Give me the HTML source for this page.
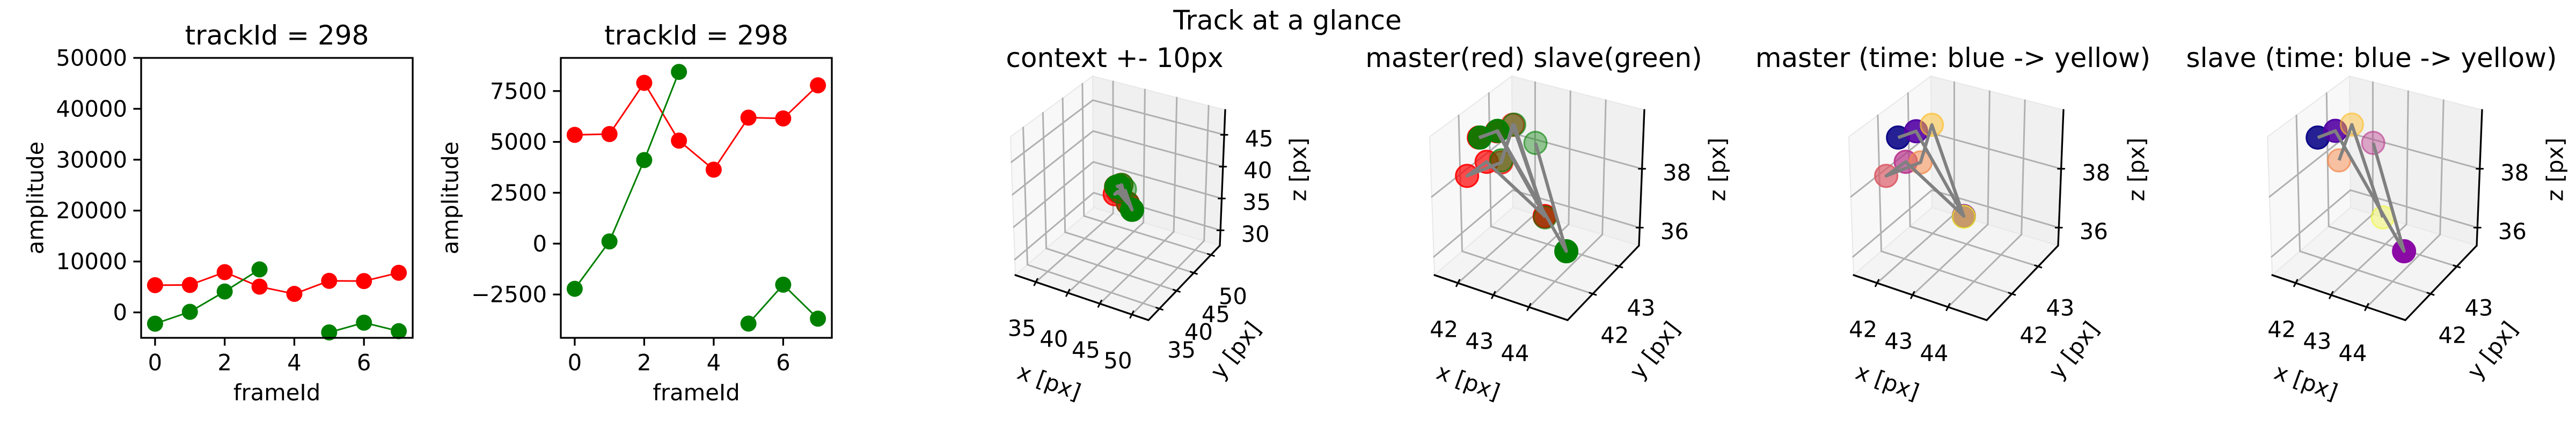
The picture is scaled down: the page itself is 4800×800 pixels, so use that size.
<!DOCTYPE html>
<html><head><meta charset="utf-8">
<style>
html,body{margin:0;padding:0;background:#fff;}
svg{display:block;font-family:"DejaVu Sans","Liberation Sans",sans-serif;}
</style></head>
<body>
<svg id="fig" width="4800" height="800" viewBox="0 0 4800 800" xmlns="http://www.w3.org/2000/svg">
<rect width="4800" height="800" fill="#fff"/>
<text x="2399" y="38" font-size="50" text-anchor="middle" dominant-baseline="central">Track at a glance</text>
</svg>
<script>
// ---- 2D amplitude data ----
const frames = [0,1,2,3,4,5,6,7];
const masterAmp = [5345,5385,7903,5062,3635,6193,6152,7781];
const slaveAmp = [-2221,108,4106,8441,null,-3931,-2019,-3689];
const xTicks2d = [0,2,4,6];
const yTicksA = [0,10000,20000,30000,40000,50000];
const yTickLabelsA = ["0","10000","20000","30000","40000","50000"];
const yTicksB = [-2500,0,2500,5000,7500];
const yTickLabelsB = ["\u22122500","0","2500","5000","7500"];
// ---- 3D track data (px) ----
const masterX = [41.55,41.83,43.39,41.98,41.65,42.17,42.05,43.39];
const masterY = [42.40,42.67,42.40,42.13,41.86,42.40,42.94,42.40];
const masterZ = [39.01,39.11,37.00,38.55,38.17,38.38,39.19,36.98];
const slaveX = [41.58,41.85,44.22,42.46,null,42.17,42.09,43.40];
const slaveY = [42.40,42.67,42.13,43.22,null,42.40,42.94,42.40];
const slaveZ = [39.02,39.13,36.36,38.48,null,38.45,39.21,36.96];
const masterAlpha = [0.9,0.9,0.8,0.7,0.7,0.55,0.5,0.5];
const slaveAlpha = [0.9,0.9,1.0,0.4,null,0.5,0.45,0.35];
const plasma = ["#0d0887","#5302a3","#8b0aa5","#b83289","#db5c68","#f48849","#febd2a","#f0f921"];

const NS="http://www.w3.org/2000/svg";
const svg=document.getElementById('fig');
function el(tag,attrs,parent){const e=document.createElementNS(NS,tag);for(const k in attrs)e.setAttribute(k,attrs[k]);(parent||svg).appendChild(e);return e;}

function ax2d(X0,X1,Y0,Y1,xlim,ylim,yt,ytl,title,ylabX,prefix){
  const g=el('g',{});
  
  
  const sx=v=>X0+(v-xlim[0])/(xlim[1]-xlim[0])*(X1-X0);
  const sy=v=>Y1-(v-ylim[0])/(ylim[1]-ylim[0])*(Y1-Y0);
  // series lines
  function series(vals,color,nm){
    let segs=[],cur=[];
    vals.forEach((v,i)=>{if(v===null){if(cur.length)segs.push(cur);cur=[];}else cur.push([sx(frames[i]),sy(v)]);});
    if(cur.length)segs.push(cur);
    segs.forEach(s=>{const p=el('polyline',{points:s.map(q=>q.join(',')).join(' '),fill:'none',stroke:color,'stroke-width':3},g);
      
      });
    vals.forEach((v,i)=>{if(v===null)return;
      const c=el('circle',{cx:sx(frames[i]),cy:sy(v),r:15,fill:color},g);
      
      });
  }
  series(masterAmp,'#ff0000','master');
  series(slaveAmp,'#008000','slave');
  const fr=el('rect',{x:X0,y:Y0,width:X1-X0,height:Y1-Y0,fill:'none',stroke:'#000','stroke-width':3.3},g);
  
  
  xTicks2d.forEach(t=>{const x=sx(t);
    el('line',{x1:x,y1:Y1,x2:x,y2:Y1+14.6,stroke:'#000','stroke-width':3.3},g);
    const tx=el('text',{x:x,y:676,'font-size':41.7,'text-anchor':'middle','dominant-baseline':'central'},g);
    tx.textContent=t;
    
    });
  yt.forEach((t,i)=>{const y=sy(t);
    el('line',{x1:X0,y1:y,x2:X0-14.6,y2:y,stroke:'#000','stroke-width':3.3},g);
    const tx=el('text',{x:X0-26,y:y,'font-size':41.7,'text-anchor':'end','dominant-baseline':'central'},g);
    tx.textContent=ytl[i];
    
    });
  const ti=el('text',{x:(X0+X1)/2,y:66,'font-size':50,'text-anchor':'middle','dominant-baseline':'central'},g);
  ti.textContent=title;
  
  
  const xl=el('text',{x:(X0+X1)/2,y:732,'font-size':41.7,'text-anchor':'middle','dominant-baseline':'central'},g);
  xl.textContent='frameId';
  
  
  const yl=el('text',{x:0,y:0,'font-size':41.7,'text-anchor':'middle','dominant-baseline':'central',transform:`translate(${ylabX},369) rotate(-90)`},g);
  yl.textContent='amplitude';
  
  
}
ax2d(263,769,108,630,[-0.4,7.4],[-5000,50000],yTicksA,yTickLabelsA,'trackId = 298',66,'amplitude-full');
ax2d(1045,1550,108,630,[-0.4,7.4],[-4631,9128],yTicksB,yTickLabelsB,'trackId = 298',839,'amplitude-zoom');

// ---- 3D panels ----
const C={L:[1892,513],F:[2140,597],R:[2273,458],B:[2038,387],Lt:[1883,255],Ft:[2143,331],Rt:[2283,205],Bt:[2036,142]};
function mk3d(off,lims,ticks,title,mode,prefix){
  const g=el('g',{});
  
  
  const P=(u,v,w)=>{const f=k=>(1-u)*(1-v)*C.L[k]+u*(1-v)*C.F[k]+u*v*C.R[k]+(1-u)*v*C.B[k];
    const t=k=>(1-u)*(1-v)*C.Lt[k]+u*(1-v)*C.Ft[k]+u*v*C.Rt[k]+(1-u)*v*C.Bt[k];
    return [off+(1-w)*f(0)+w*t(0),(1-w)*f(1)+w*t(1)];};
  const nx=x=>(x-lims[0][0])/(lims[0][1]-lims[0][0]);
  const ny=y=>(y-lims[1][0])/(lims[1][1]-lims[1][0]);
  const nz=z=>(z-lims[2][0])/(lims[2][1]-lims[2][0]);
  const poly=(pts,fill,nm)=>{const p=el('polygon',{points:pts.map(q=>q.join(',')).join(' '),fill:fill,stroke:'#e8e8e8','stroke-width':2},g);
    };
  poly([P(0,0,0),P(0,1,0),P(0,1,1),P(0,0,1)],'#f8f8f8','left-pane');
  poly([P(0,1,0),P(1,1,0),P(1,1,1),P(0,1,1)],'#f0f0f0','back-pane');
  poly([P(0,0,0),P(1,0,0),P(1,1,0),P(0,1,0)],'#f4f4f4','floor-pane');
  const ln=(a,b,col,w,nm)=>{const l=el('line',{x1:a[0],y1:a[1],x2:b[0],y2:b[1],stroke:col,'stroke-width':w,'stroke-linecap':'round'},g);
    return l;};
  const gc='#b0b0b0';
  ticks[0].forEach(x=>{const u=nx(x);ln(P(u,0,0),P(u,1,0),gc,3,'gridline');ln(P(u,1,0),P(u,1,1),gc,3,'gridline');});
  ticks[1].forEach(y=>{const v=ny(y);ln(P(0,v,0),P(1,v,0),gc,3,'gridline');ln(P(0,v,0),P(0,v,1),gc,3,'gridline');});
  ticks[2].forEach(z=>{const w=nz(z);ln(P(0,0,w),P(0,1,w),gc,3,'gridline');ln(P(0,1,w),P(1,1,w),gc,3,'gridline');});
  ln(P(0,0,0),P(1,0,0),'#000',3.3,'x-axis-line');
  ln(P(1,0,0),P(1,1,0),'#000',3.3,'y-axis-line');
  ln(P(1,1,0),P(1,1,1),'#000',3.3,'z-axis-line');
  const lab=(x,y,t,nm,tr)=>{const e=el('text',{x:x,y:y,'font-size':41.7,'text-anchor':'middle','dominant-baseline':'central'},g);
    if(tr)e.setAttribute('transform',tr);e.textContent=t;
    };
  ticks[0].forEach(x=>{const p=P(nx(x),0,0);ln([p[0]-3,p[1]+6],[p[0]+3,p[1]-6],'#000',3,'x-tick');lab(p[0]-26,p[1]+86,x,'x-tick-label');});
  ticks[1].forEach(y=>{const p=P(1,ny(y),0);ln([p[0]-6,p[1]-2],[p[0]+6,p[1]+2],'#000',3,'y-tick');lab(p[0]+41,p[1]+77,y,'y-tick-label');});
  ticks[2].forEach(z=>{const p=P(1,1,nz(z));ln([p[0]-6,p[1]],[p[0]+6,p[1]],'#000',3,'z-tick');lab(p[0]+65,p[1]+7,z,'z-tick-label');});
  lab(off+1955,712,'x [px]','x-axis-title',`rotate(20 ${off+1955} 712)`);
  lab(off+2302,653,'y [px]','y-axis-title',`rotate(-52 ${off+2302} 653)`);
  lab(off+2419,316,'z [px]','z-axis-title',`rotate(-90 ${off+2419} 316)`);
  const t=el('text',{x:off+2077,y:108,'font-size':50,'text-anchor':'middle','dominant-baseline':'central'},g);
  t.textContent=title;
  
  
  function pts(X,Y,Z,A,colorFn,nm){
    X.forEach((x,i)=>{if(x===null)return;const p=P(nx(x),ny(Y[i]),nz(Z[i]));
      const c=el('circle',{cx:p[0],cy:p[1],r:21,fill:colorFn(i),'fill-opacity':A[i],stroke:colorFn(i),'stroke-opacity':Math.min(1,A[i]+0.2),'stroke-width':3},g);
      
      });
  }
  function path(X,Y,Z,nm){
    let cur=[],segs=[];
    X.forEach((x,i)=>{if(x===null){if(cur.length)segs.push(cur);cur=[];}else cur.push(P(nx(x),ny(Y[i]),nz(Z[i])));});
    if(cur.length)segs.push(cur);
    segs.forEach(s=>{const pl=el('polyline',{points:s.map(q=>q.join(',')).join(' '),fill:'none',stroke:'#808080','stroke-width':6,'stroke-linejoin':'round'},g);
      
      });
  }
  if(mode==='both'){
    pts(masterX,masterY,masterZ,masterAlpha,()=>'#ff0000','master');
    pts(slaveX,slaveY,slaveZ,slaveAlpha,()=>'#008000','slave');
    path(masterX,masterY,masterZ,'master');path(slaveX,slaveY,slaveZ,'slave');
  } else if(mode==='master'){
    pts(masterX,masterY,masterZ,masterAlpha,i=>plasma[i],'master');
    path(masterX,masterY,masterZ,'master');
  } else {
    pts(slaveX,slaveY,slaveZ,slaveAlpha,i=>plasma[i],'slave');
    path(slaveX,slaveY,slaveZ,'slave');
  }
}
const limsWide=[[31.8,52.6],[31.8,52.6],[27.6,48.9]];
const limsTight=[[41.34,45.09],[41.04,43.76],[35.39,40.0]];
const ticksWide=[[35,40,45,50],[35,40,45,50],[30,35,40,45]];
const ticksTight=[[42,43,44],[42,43],[36,38]];
mk3d(0,limsWide,ticksWide,'context +- 10px','both','context');
mk3d(781,limsTight,ticksTight,'master(red) slave(green)','both','master-slave');
mk3d(1562,limsTight,ticksTight,'master (time: blue -> yellow)','master','master-time');
mk3d(2342,limsTight,ticksTight,'slave (time: blue -> yellow)','slave','slave-time');
</script>
</body></html>
